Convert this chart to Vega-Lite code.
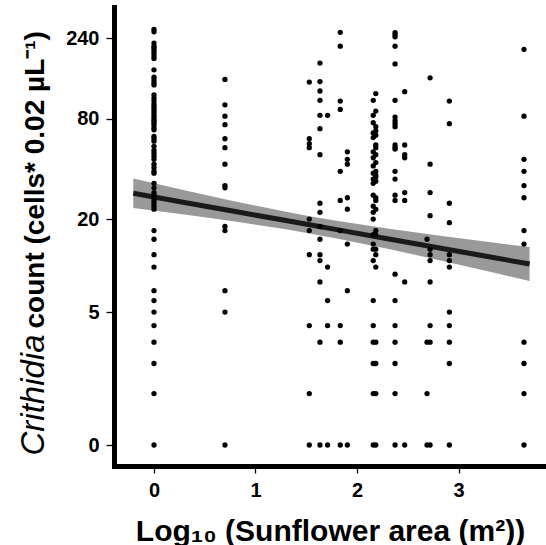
{
"$schema": "https://vega.github.io/schema/vega-lite/v6.json",
"width": 432, "height": 459,
"autosize": "none",
"padding": {"left": 114, "top": 7, "right": 0, "bottom": 79},
"background": "white",
"config": {"view": {"stroke": null}, "font": "Liberation Sans"},
"datasets": {
"fit": [
{"x":-0.204,"fit":28.72,"lo":23.39,"hi":35.23},
{"x":0.3,"fit":25.28,"lo":21.33,"hi":29.93},
{"x":0.8,"fit":22.26,"lo":19.32,"hi":25.62},
{"x":1.3,"fit":19.59,"lo":17.29,"hi":22.18},
{"x":1.546,"fit":18.39,"lo":16.26,"hi":20.78},
{"x":1.8,"fit":17.22,"lo":15.18,"hi":19.52},
{"x":2.3,"fit":15.13,"lo":13.09,"hi":17.47},
{"x":2.8,"fit":13.27,"lo":11.12,"hi":15.81},
{"x":3.3,"fit":11.63,"lo":9.36,"hi":14.41},
{"x":3.7,"fit":10.46,"lo":8.12,"hi":13.41}
],
"pts": [
{"x":0,"y":270},{"x":0,"y":261},{"x":0,"y":224},{"x":0,"y":215},{"x":0,"y":209},{"x":0,"y":202},{"x":0,"y":195},{"x":0,"y":188},{"x":0,"y":182},{"x":0,"y":156},{"x":0,"y":141},{"x":0,"y":136},{"x":0,"y":131},{"x":0,"y":127},{"x":0,"y":111},{"x":0,"y":106},{"x":0,"y":102},{"x":0,"y":98},{"x":0,"y":95},{"x":0,"y":92},{"x":0,"y":89},{"x":0,"y":86},{"x":0,"y":83},{"x":0,"y":80},{"x":0,"y":78},{"x":0,"y":76},{"x":0,"y":74},{"x":0,"y":71},{"x":0,"y":69},{"x":0,"y":63},{"x":0,"y":61},{"x":0,"y":59},{"x":0,"y":55},{"x":0,"y":52},{"x":0,"y":50},{"x":0,"y":48},{"x":0,"y":46},{"x":0,"y":43},{"x":0,"y":41},{"x":0,"y":39},{"x":0,"y":38},{"x":0,"y":33},{"x":0,"y":31},{"x":0,"y":29},{"x":0,"y":28},{"x":0,"y":27},{"x":0,"y":26},{"x":0,"y":25},{"x":0,"y":24},{"x":0,"y":23},{"x":0,"y":17},{"x":0,"y":15},{"x":0,"y":12},{"x":0,"y":10},{"x":0,"y":7},{"x":0,"y":6},{"x":0,"y":5},{"x":0,"y":4},{"x":0,"y":3},{"x":0,"y":2},{"x":0,"y":1},{"x":0,"y":0},
{"x":0.699,"y":137},{"x":0.699,"y":97},{"x":0.699,"y":83},{"x":0.699,"y":74},{"x":0.699,"y":61},{"x":0.699,"y":54},{"x":0.699,"y":43},{"x":0.699,"y":32},{"x":0.699,"y":31},{"x":0.699,"y":18},{"x":0.699,"y":17},{"x":0.699,"y":7},{"x":0.699,"y":5},{"x":0.699,"y":0},
{"x":1.53,"y":132},{"x":1.53,"y":61},{"x":1.53,"y":57},{"x":1.53,"y":54},{"x":1.53,"y":20},{"x":1.53,"y":17},{"x":1.53,"y":12},{"x":1.53,"y":4},{"x":1.53,"y":1},{"x":1.53,"y":0},
{"x":1.635,"y":171},{"x":1.635,"y":133},{"x":1.635,"y":117},{"x":1.635,"y":103},{"x":1.635,"y":84},{"x":1.635,"y":70},{"x":1.635,"y":49},{"x":1.635,"y":25},{"x":1.635,"y":22},{"x":1.635,"y":18},{"x":1.635,"y":15},{"x":1.635,"y":12},{"x":1.635,"y":11},{"x":1.635,"y":8},{"x":1.635,"y":3},{"x":1.635,"y":0},
{"x":1.71,"y":84},{"x":1.71,"y":10},{"x":1.71,"y":6},{"x":1.71,"y":4},{"x":1.71,"y":0},
{"x":1.835,"y":259},{"x":1.835,"y":215},{"x":1.835,"y":102},{"x":1.835,"y":91},{"x":1.835,"y":39},{"x":1.835,"y":26},{"x":1.835,"y":17},{"x":1.835,"y":4},{"x":1.835,"y":3},{"x":1.835,"y":0},
{"x":1.905,"y":51},{"x":1.905,"y":46},{"x":1.905,"y":43},{"x":1.905,"y":27},{"x":1.905,"y":23},{"x":1.905,"y":14},{"x":1.905,"y":7},{"x":1.905,"y":0},
{"x":2.16,"y":103},{"x":2.16,"y":84},{"x":2.16,"y":76},{"x":2.16,"y":66},{"x":2.16,"y":62},{"x":2.16,"y":51},{"x":2.16,"y":47},{"x":2.16,"y":42},{"x":2.16,"y":38},{"x":2.16,"y":35},{"x":2.16,"y":33},{"x":2.16,"y":28},{"x":2.16,"y":24},{"x":2.16,"y":22},{"x":2.16,"y":20},{"x":2.16,"y":16},{"x":2.16,"y":14},{"x":2.16,"y":13},{"x":2.16,"y":11},{"x":2.16,"y":6},{"x":2.16,"y":4},{"x":2.16,"y":3},{"x":2.16,"y":2},{"x":2.16,"y":1},{"x":2.16,"y":0},
{"x":2.185,"y":113},{"x":2.185,"y":89},{"x":2.185,"y":72},{"x":2.185,"y":68},{"x":2.185,"y":64},{"x":2.185,"y":56},{"x":2.185,"y":54},{"x":2.185,"y":49},{"x":2.185,"y":44},{"x":2.185,"y":39},{"x":2.185,"y":37},{"x":2.185,"y":36},{"x":2.185,"y":34},{"x":2.185,"y":27},{"x":2.185,"y":26},{"x":2.185,"y":23},{"x":2.185,"y":17},{"x":2.185,"y":16},{"x":2.185,"y":13},{"x":2.185,"y":12},{"x":2.185,"y":10},{"x":2.185,"y":3},{"x":2.185,"y":2},{"x":2.185,"y":1},{"x":2.185,"y":0},
{"x":2.375,"y":258},{"x":2.375,"y":250},{"x":2.375,"y":244},{"x":2.375,"y":215},{"x":2.375,"y":169},{"x":2.375,"y":103},{"x":2.375,"y":82},{"x":2.375,"y":78},{"x":2.375,"y":75},{"x":2.375,"y":72},{"x":2.375,"y":56},{"x":2.375,"y":54},{"x":2.375,"y":53},{"x":2.375,"y":39},{"x":2.375,"y":35},{"x":2.375,"y":28},{"x":2.375,"y":26},{"x":2.375,"y":9},{"x":2.375,"y":6},{"x":2.375,"y":4},{"x":2.375,"y":3},{"x":2.375,"y":2},{"x":2.375,"y":1},{"x":2.375,"y":0},
{"x":2.47,"y":116},{"x":2.47,"y":56},{"x":2.47,"y":49},{"x":2.47,"y":47},{"x":2.47,"y":29},{"x":2.47,"y":26},{"x":2.47,"y":8},{"x":2.47,"y":0},
{"x":2.69,"y":15},{"x":2.69,"y":3},{"x":2.69,"y":1},{"x":2.69,"y":0},
{"x":2.72,"y":140},{"x":2.72,"y":43},{"x":2.72,"y":29},{"x":2.72,"y":21},{"x":2.72,"y":13},{"x":2.72,"y":12},{"x":2.72,"y":11},{"x":2.72,"y":8},{"x":2.72,"y":4},{"x":2.72,"y":3},{"x":2.72,"y":0},
{"x":2.91,"y":102},{"x":2.91,"y":75},{"x":2.91,"y":25},{"x":2.91,"y":19},{"x":2.91,"y":12},{"x":2.91,"y":11},{"x":2.91,"y":10},{"x":2.91,"y":5},{"x":2.91,"y":4},{"x":2.91,"y":3},{"x":2.91,"y":2},{"x":2.91,"y":0},
{"x":3.645,"y":206},{"x":3.645,"y":83},{"x":3.645,"y":46},{"x":3.645,"y":39},{"x":3.645,"y":32},{"x":3.645,"y":27},{"x":3.645,"y":17},{"x":3.645,"y":14},{"x":3.645,"y":3},{"x":3.645,"y":2},{"x":3.645,"y":1},{"x":3.645,"y":0}
]
},
"layer": [
{
"data": {"name": "fit"},
"mark": {"type": "area", "color": "#999999", "opacity": 1},
"encoding": {
"x": {"field": "x", "type": "quantitative",
"scale": {"domain": [-0.394, 3.862], "nice": false, "zero": false},
"axis": {"values": [0, 1, 2, 3], "format": "d", "grid": false,
"domainColor": "black", "domainWidth": 5, "domainCap": "square",
"tickColor": "black", "tickWidth": 1.3, "tickSize": 7,
"labelPadding": 7, "labelFont": "Liberation Sans", "labelFontWeight": "bold", "labelFontSize": 20, "labelColor": "black",
"title": "Log₁₀ (Sunflower area (m²))", "titleFont": "Liberation Sans", "titleFontSize": 30, "titleFontWeight": "bold", "titleColor": "black",
"titleBaseline": "alphabetic", "titleY": 74}},
"y": {"field": "lo", "type": "quantitative",
"scale": {"type": "symlog", "constant": 1, "domain": [-0.327, 365], "nice": false, "zero": false},
"axis": {"orient": "left", "domain": false, "ticks": false, "labels": false, "grid": false,
"title": "Crithidia", "titleFont": "Liberation Sans", "titleFontSize": 33, "titleFontStyle": "italic", "titleFontWeight": "normal", "titleColor": "black",
"titleAngle": 270, "titleAlign": "left", "titleBaseline": "alphabetic", "titleX": -71, "titleY": 448}},
"y2": {"field": "hi"}
}
},
{
"data": {"name": "fit"},
"mark": {"type": "line", "color": "#1a1a1a", "strokeWidth": 5},
"encoding": {
"x": {"field": "x", "type": "quantitative"},
"y": {"field": "fit", "type": "quantitative", "axis": null}
}
},
{
"data": {"name": "pts"},
"mark": {"type": "circle", "color": "black", "opacity": 1, "size": 28},
"encoding": {
"x": {"field": "x", "type": "quantitative"},
"y": {"field": "y", "type": "quantitative",
"axis": {"orient": "left", "values": [0, 5, 20, 80, 240], "format": "d", "grid": false,
"domainColor": "black", "domainWidth": 5, "domainCap": "square",
"tickColor": "black", "tickWidth": 1.3, "tickSize": 8,
"labelPadding": 7, "labelFont": "Liberation Sans", "labelFontWeight": "bold", "labelFontSize": 20, "labelColor": "black",
"title": "count (cells* 0.02 µL⁻¹)", "titleFont": "Liberation Sans", "titleFontSize": 28, "titleFontWeight": "bold", "titleColor": "black",
"titleAngle": 270, "titleAlign": "left", "titleBaseline": "alphabetic", "titleX": -71, "titleY": 321}}
}
}
],
"resolve": {"axis": {"y": "independent"}}
}
